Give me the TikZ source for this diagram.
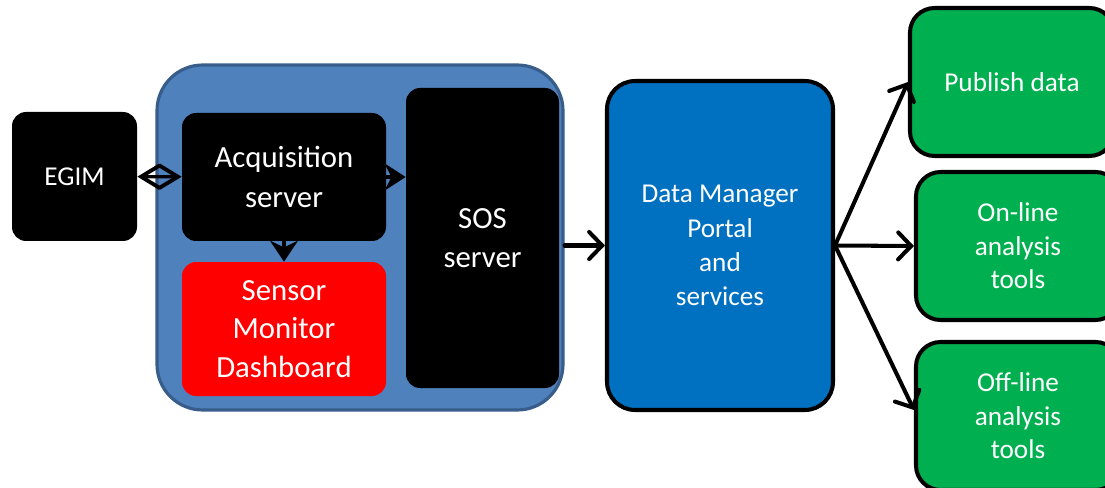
\documentclass[tikz,border=0pt]{standalone}
\usepackage{fontspec}
\setmainfont{Carlito}
\usepackage{xcolor}
\usepackage{tikz}
\usetikzlibrary{arrows.meta, positioning, calc}
\definecolor{framefill}{HTML}{4F81BD}
\definecolor{frameline}{HTML}{385D8A}
\definecolor{dmblue}{HTML}{0070C0}
\definecolor{toolgreen}{HTML}{00B050}
\definecolor{monred}{HTML}{FF0000}

\begin{document}
\begin{tikzpicture}[
    blackbox/.style={rectangle, rounded corners=8pt, fill=black, text=white, align=center},
    frame/.style={rectangle, rounded corners=26pt, draw=frameline, line width=1.8pt, fill=framefill},
    portal/.style={rectangle, rounded corners=16pt, draw=black, line width=2.3pt, fill=dmblue, text=white, align=center, font=\fontsize{15.5}{19.5}\selectfont},
    tool/.style={rectangle, rounded corners=14pt, draw=black, line width=2.3pt, fill=toolgreen, text=white, align=center, minimum width=4.08cm, minimum height=2.96cm, font=\fontsize{15.5}{19}\selectfont},
    link/.style={line width=1.8pt, color=black},
    flow/.style={-{Straight Barb[length=2.6mm, width=5.4mm, line cap=round]}, line width=2.3pt, line cap=round, color=black}
]
\useasboundingbox (0,0) rectangle (22.1,-9.76);

% Acquisition block
\node[frame, minimum width=8.12cm, minimum height=6.9cm] (frm) at (7.2,-4.75) {};
\node[blackbox, minimum width=2.5cm, minimum height=2.58cm, font=\fontsize{15.5}{19}\selectfont] (egim) at (1.49,-3.53) {EGIM};
\node[blackbox, minimum width=4.08cm, minimum height=2.56cm, font=\fontsize{17.5}{22.5}\selectfont] (acq) at (5.68,-3.54) {Acquisition\\server};
\node[blackbox, fill=monred, minimum width=4.08cm, minimum height=2.68cm, font=\fontsize{17.5}{21.8}\selectfont] (smd) at (5.68,-6.58) {Sensor\\Monitor\\Dashboard};
\node[blackbox, minimum width=3.06cm, minimum height=6.0cm, font=\fontsize{17.5}{22.5}\selectfont] (sos) at (9.65,-4.76) {SOS\\server};

% Portal
\node[portal, minimum width=4.52cm, minimum height=6.58cm] (dm) at (14.4,-4.91) {Data Manager\\Portal\\and\\services};

% Tools
\node[tool] (pub) at (20.24,-1.64) {Publish data};
\node[tool] (onl) at (20.36,-4.92) {On-line\\analysis\\tools};
\node[tool] (offl) at (20.36,-8.32) {Off-line\\analysis\\tools};

% Arrows
\draw[link, {Diamond[open, length=8.6mm, width=5.2mm]}-{Diamond[open, length=8.6mm, width=5.2mm]}] (egim) -- (acq);
\draw[link, -{Stealth[length=4.2mm, width=5.4mm]}] (acq.east) -- (sos.west |- acq.east);
\draw[link, -{Stealth[length=4.2mm, width=5.6mm]}] (acq) -- (smd);
\draw[flow] (frm.east |- dm) -- (dm);
\coordinate (fan) at (dm.east);
\draw[flow] (fan) -- (pub.west);
\draw[flow] (fan) -- (onl.west);
\draw[flow] (fan) -- ($(offl.west)+(0,0.12)$);

\end{tikzpicture}
\end{document}
